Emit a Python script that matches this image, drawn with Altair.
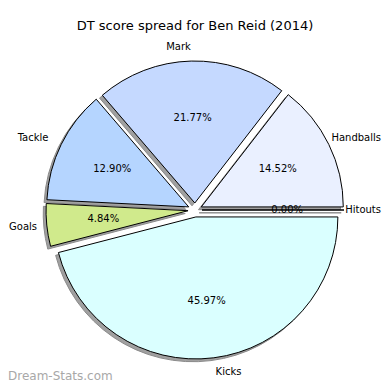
import altair as alt
import pandas as pd

# ---- data ----
labels = ["Hitouts", "Handballs", "Mark", "Tackle", "Goals", "Kicks"]
scores = [0, 18, 27, 16, 6, 57]
colors = ["#f4f4ff", "#eaf0ff", "#c5d9ff", "#b5d5ff", "#d0ea8c", "#daffff"]
title_text = "DT score spread for Ben Reid (2014)"
watermark = "Dream-Stats.com"

# ---- layout constants (pixels inside the view; page offset is 8px) ----
W = H = 374
CX, CY = 187, 202
R = 142
E = 7
SH = 2.8
MIN_RIGHT_X = 29
CHAR_W = 5.6
FONT = "DejaVu Sans"

df = pd.DataFrame({"label": labels, "score": scores, "order": list(range(len(labels)))})

color_scale = alt.Scale(domain=labels, range=colors)

base = (
    alt.Chart(df)
    .transform_window(cum="sum(score)", sort=[alt.SortField("order")], frame=[None, 0])
    .transform_joinaggregate(total="sum(score)")
    .transform_calculate(a1="datum.cum / datum.total * 2 * PI")
    .transform_calculate(a0="(datum.cum - datum.score) / datum.total * 2 * PI")
    .transform_calculate(mid="(datum.a0 + datum.a1) / 2")
    .transform_calculate(ts="PI / 2 - datum.a1")
    .transform_calculate(te="PI / 2 - datum.a0")
    .transform_calculate(pct="datum.score / datum.total")
    .transform_calculate(ox=f"{CX} + {E} * cos(datum.mid)")
    .transform_calculate(oy=f"{CY} - {E} * sin(datum.mid)")
    .transform_calculate(sx=f"datum.ox - {SH}")
    .transform_calculate(sy=f"datum.oy + {SH}")
    .transform_calculate(lx=f"datum.ox + {1.1 * R} * cos(datum.mid)")
    .transform_calculate(ly=f"datum.oy - {1.1 * R} * sin(datum.mid)")
    .transform_calculate(lxr=f"max(datum.lx, {MIN_RIGHT_X})")
    .transform_calculate(px=f"datum.ox + {0.6 * R} * cos(datum.mid)")
    .transform_calculate(py=f"datum.oy - {0.6 * R} * sin(datum.mid)")
    .transform_calculate(
        side=f"cos(datum.mid) > 0 ? (datum.lx + {CHAR_W} * length(datum.label) > {W} ? 'edge' : 'left') : 'right'"
    )
)

shadow = base.mark_arc(radius=R, fill="#a0a0a0", stroke="#8a8a8a", strokeWidth=1).encode(
    x=alt.X("sx:Q", scale=None, axis=None),
    y=alt.Y("sy:Q", scale=None, axis=None),
    theta=alt.Theta("ts:Q", scale=None),
    theta2="te:Q",
)

wedges = base.mark_arc(radius=R, stroke="black", strokeWidth=1).encode(
    x=alt.X("ox:Q", scale=None, axis=None),
    y=alt.Y("oy:Q", scale=None, axis=None),
    theta=alt.Theta("ts:Q", scale=None),
    theta2="te:Q",
    color=alt.Color("label:N", scale=color_scale, legend=None),
)

lab_left = base.transform_filter("datum.side == 'left'").mark_text(
    align="left", baseline="middle", font=FONT, fontSize=10, color="black"
).encode(
    x=alt.X("lx:Q", scale=None, axis=None),
    y=alt.Y("ly:Q", scale=None, axis=None),
    text="label:N",
)

lab_edge = base.transform_filter("datum.side == 'edge'").mark_text(
    align="right", baseline="middle", font=FONT, fontSize=10, color="black"
).encode(
    x=alt.value(W - 1),
    y=alt.Y("ly:Q", scale=None, axis=None),
    text="label:N",
)

lab_right = base.transform_filter("datum.side == 'right'").mark_text(
    align="right", baseline="middle", font=FONT, fontSize=10, color="black"
).encode(
    x=alt.X("lxr:Q", scale=None, axis=None),
    y=alt.Y("ly:Q", scale=None, axis=None),
    text="label:N",
)

pct_text = base.mark_text(
    align="center", baseline="middle", font=FONT, fontSize=10, color="black"
).encode(
    x=alt.X("px:Q", scale=None, axis=None),
    y=alt.Y("py:Q", scale=None, axis=None),
    text=alt.Text("pct:Q", format=".2%"),
)

title = alt.Chart(pd.DataFrame({"t": [title_text]})).mark_text(
    align="center", baseline="middle", font=FONT, fontSize=13, color="black"
).encode(x=alt.value(187), y=alt.value(18), text="t:N")

wm = alt.Chart(pd.DataFrame({"t": [watermark]})).mark_text(
    align="left", baseline="alphabetic", font=FONT, fontSize=12, color="#a8a8a8"
).encode(x=alt.value(0), y=alt.value(372), text="t:N")

chart = (
    alt.layer(shadow, wedges, lab_left, lab_edge, lab_right, pct_text, title, wm)
    .properties(width=W, height=H, autosize=alt.AutoSizeParams(type="none"), padding=0)
    .configure_view(stroke=None)
)

chart.save("out.html", embed_options={"renderer": "svg", "actions": False})
